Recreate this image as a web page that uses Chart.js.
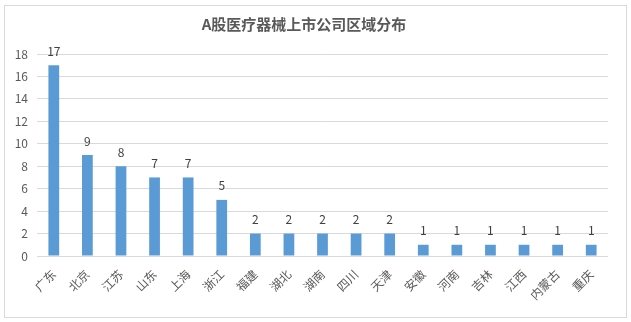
<!DOCTYPE html>
<html>
<head>
<meta charset="utf-8">
<script src="https://cdn.jsdelivr.net/npm/chart.js@4.4.0/dist/chart.umd.min.js"></script>
<style>
  html, body { margin: 0; padding: 0; background: #fff; }
  #wrap { width: 631px; height: 322px; }
</style>
</head>
<body>
<div id="wrap"><canvas id="chart"></canvas></div>
<script>
// data
const regions = ['广东', '北京', '江苏', '山东', '上海', '浙江', '福建', '湖北', '湖南', '四川', '天津', '安徽', '河南', '吉林', '江西', '内蒙古', '重庆'];
const companyCounts = [17, 9, 8, 7, 7, 5, 2, 2, 2, 2, 2, 1, 1, 1, 1, 1, 1];
const yTicks = [0, 2, 4, 6, 8, 10, 12, 14, 16, 18];

const fontFamily = '"Noto Sans CJK SC", "Noto Sans", sans-serif';

// light gray frame round the whole chart
const framePlugin = {
    id: 'frame',
    beforeDraw(chart) {
        const ctx = chart.ctx;
        ctx.save();
        ctx.strokeStyle = '#d9d9d9';
        ctx.lineWidth = 1;
        ctx.strokeRect(4.5, 5.5, 622, 312);
        ctx.restore();
    }
};

// value labels above each bar
const valueLabels = {
    id: 'valueLabels',
    afterDatasetsDraw(chart) {
        const ctx = chart.ctx;
        const meta = chart.getDatasetMeta(0);
        ctx.save();
        ctx.font = '12px ' + fontFamily;
        ctx.fillStyle = '#404040';
        ctx.textAlign = 'center';
        ctx.textBaseline = 'bottom';
        meta.data.forEach(function(bar, i) {
            ctx.fillText(String(companyCounts[i]), bar.x, bar.y - 8);
        });
        ctx.restore();
    }
};

new Chart(document.getElementById('chart'), {
    type: 'bar',
    data: {
        labels: regions,
        datasets: [{
            data: companyCounts,
            backgroundColor: '#5B9BD5',
            barPercentage: 0.4,
            categoryPercentage: 0.8
        }]
    },
    options: {
        responsive: true,
        maintainAspectRatio: false,
        animation: false,
        layout: {
            padding: { left: 0, right: 23, top: 0, bottom: 10 }
        },
        plugins: {
            legend: { display: false },
            tooltip: { enabled: false },
            title: {
                display: true,
                text: 'A股医疗器械上市公司区域分布',
                color: '#595959',
                font: { family: fontFamily, size: 15, weight: 'bold' },
                padding: { top: 15, bottom: 21 }
            }
        },
        scales: {
            x: {
                grid: { display: false },
                border: { display: false },
                ticks: {
                    color: '#595959',
                    font: { family: fontFamily, size: 12 },
                    minRotation: 45,
                    maxRotation: 45,
                    autoSkip: false
                },
                afterFit: function(scale) { scale.height = 56; }
            },
            y: {
                min: 0,
                max: 18,
                afterBuildTicks: function(scale) {
                    scale.ticks = yTicks.map(function(v) { return { value: v }; });
                },
                grid: { color: '#d9d9d9', drawTicks: false },
                border: { display: false },
                ticks: {
                    color: '#595959',
                    font: { family: fontFamily, size: 12 },
                    padding: 9
                },
                afterFit: function(scale) { scale.width = 37; }
            }
        }
    },
    plugins: [framePlugin, valueLabels]
});
</script>
</body>
</html>
